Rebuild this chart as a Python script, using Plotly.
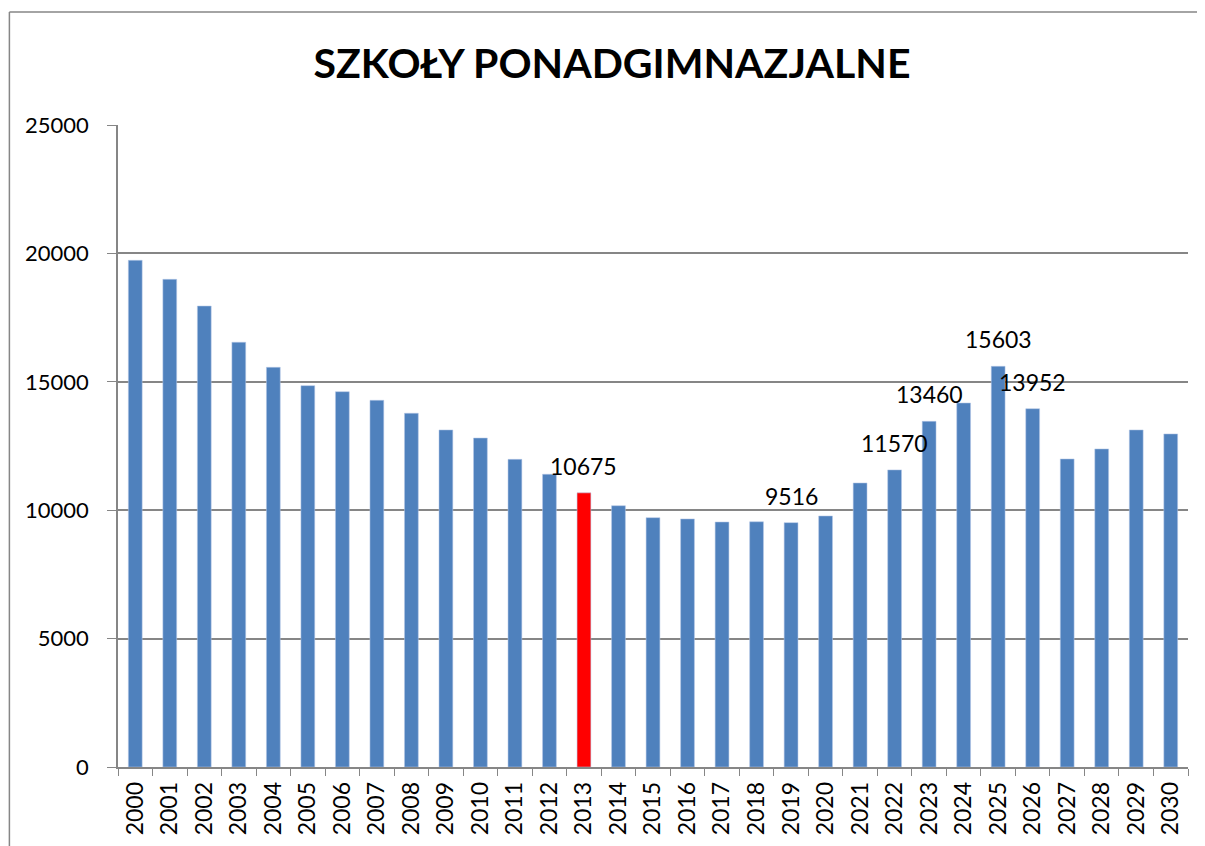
import plotly.graph_objects as go

years = [str(y) for y in range(2000, 2031)]
values = [19730, 18990, 17950, 16540, 15565, 14850, 14615, 14280, 13775, 13125,
          12810, 11980, 11400, 10675, 10175, 9710, 9660, 9540, 9550, 9516,
          9775, 11060, 11570, 13460, 14175, 15603, 13952, 11995, 12385, 13125, 12970]
highlight_year = "2013"
labeled_years = ["2013", "2019", "2022", "2023", "2025", "2026"]
title_text = "SZKOŁY PONADGIMNAZJALNE"
y_ticks = [0, 5000, 10000, 15000, 20000, 25000]

BLUE = "#4F81BD"
RED = "#FF0000"
GRID = "#868686"
FONT = "Lato, 'Open Sans', sans-serif"

# the page body adds an 8px offset; margins compensate for it
OFF = 8

colors = [RED if y == highlight_year else BLUE for y in years]

fig = go.Figure()
fig.add_trace(go.Bar(
    x=years, y=values,
    marker=dict(color=colors, line=dict(color="rgba(180,200,230,0.9)", width=0.6)),
    hoverinfo="x+y",
))

annotations = []
for yr in labeled_years:
    i = years.index(yr)
    v = values[i]
    annotations.append(dict(
        x=i, y=v, xref="x", yref="y", text=str(v), showarrow=False,
        yanchor="middle", xanchor="center", yshift=27,
        font=dict(family=FONT, size=23, color="#000000"),
    ))

fig.update_layout(
    width=1205, height=846,
    paper_bgcolor="white", plot_bgcolor="white",
    margin=dict(l=118 - OFF, r=17 + OFF, t=125 - OFF, b=79 + OFF, autoexpand=False),
    bargap=0.6,
    showlegend=False,
    title=dict(
        text=title_text, xref="container", yref="container",
        x=(612 - OFF) / 1205, y=1 - (64 - OFF) / 846, xanchor="center", yanchor="middle",
        font=dict(family=FONT, size=41, color="#000000", weight="bold"),
    ),
    annotations=annotations,
    font=dict(family=FONT, color="#000000"),
    shapes=[
        dict(type="line", xref="paper", yref="paper", x0=-0.1015, x1=-0.1015,
             y0=1.176, y1=-0.3, line=dict(color=GRID, width=1.5)),
        dict(type="line", xref="paper", yref="paper", x0=-0.1015, x1=1.2,
             y0=1.176, y1=1.176, line=dict(color=GRID, width=1.5)),
    ],
)

fig.update_xaxes(
    type="category", range=[-0.5, len(years) - 0.5],
    tickangle=-90, tickson="boundaries", ticks="outside", ticklen=7,
    tickcolor=GRID, showline=True, linecolor=GRID, linewidth=1.5,
    showgrid=False, tickfont=dict(family=FONT, size=23, color="#000000"),
    ticklabelstandoff=4,
)
fig.update_yaxes(
    range=[0, 25000], tickvals=y_ticks, tickformat="d", ticks="outside", ticklen=9,
    tickcolor=GRID, showline=True, linecolor=GRID, linewidth=1.5,
    showgrid=True, gridcolor=GRID, gridwidth=1.5, zeroline=False,
    tickfont=dict(family=FONT, size=22, color="#000000"),
    ticklabelstandoff=14,
)

fig.write_html("out.html")
